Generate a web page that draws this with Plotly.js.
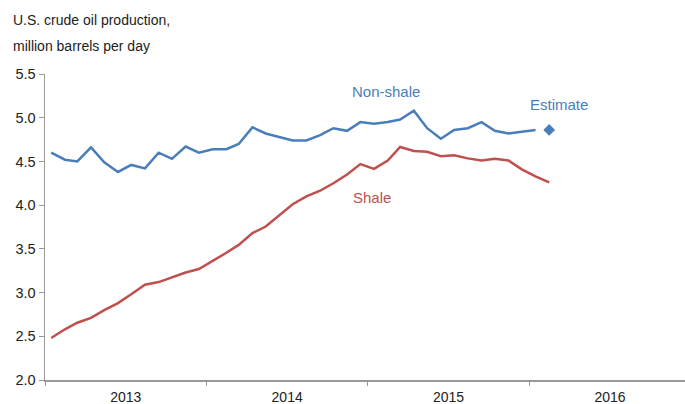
<!DOCTYPE html>
<html>
<head>
<meta charset="utf-8">
<script src="https://cdn.plot.ly/plotly-3.0.1.min.js"></script>
<style>html,body{margin:0;padding:0;background:#fff;}#chart{width:685px;height:404px;}</style>
</head>
<body>
<div id="chart"></div>
<script>
// Monthly data, Jan 2013 onward
var startYear = 2013;
var nonShale = [4.60, 4.52, 4.50, 4.66, 4.49, 4.38, 4.46, 4.42, 4.60, 4.53, 4.67, 4.60,
                4.64, 4.64, 4.70, 4.89, 4.82, 4.78, 4.74, 4.74, 4.80, 4.88, 4.85, 4.95,
                4.93, 4.95, 4.98, 5.08, 4.88, 4.76, 4.86, 4.88, 4.95, 4.85, 4.82, 4.84,
                4.86];
var shale = [2.48, 2.58, 2.655, 2.71, 2.80, 2.88, 2.98, 3.09, 3.12, 3.175, 3.23, 3.27,
             3.36, 3.455, 3.545, 3.68, 3.755, 3.89, 4.01, 4.10, 4.165, 4.25, 4.35, 4.47,
             4.415, 4.51, 4.665, 4.62, 4.61, 4.56, 4.57, 4.535, 4.51, 4.53, 4.51, 4.41,
             4.33, 4.26];
var estimateMonth = ["2016-02-15"];
var estimateValue = [4.86];
var yTicks = [2.0, 2.5, 3.0, 3.5, 4.0, 4.5, 5.0, 5.5];

function monthDates(n) {
  var out = [];
  for (var i = 0; i < n; i++) {
    var y = startYear + Math.floor(i / 12);
    var m = (i % 12) + 1;
    out.push(y + "-" + (m < 10 ? "0" + m : m) + "-15");
  }
  return out;
}

var blue = "#4a7ebb";
var red = "#c0504d";

var traces = [
  {x: monthDates(nonShale.length), y: nonShale, type: "scatter", mode: "lines",
   line: {color: blue, width: 2.5}, hoverinfo: "skip"},
  {x: monthDates(shale.length), y: shale, type: "scatter", mode: "lines",
   line: {color: red, width: 2.5}, hoverinfo: "skip"},
  {x: estimateMonth, y: estimateValue, type: "scatter", mode: "markers",
   marker: {symbol: "diamond", size: 9, color: blue}, hoverinfo: "skip"}
];

var fontFam = "Liberation Sans, Arial, sans-serif";

var layout = {
  width: 685, height: 404,
  margin: {l: 45, r: 0, t: 74, b: 24},
  paper_bgcolor: "#fff", plot_bgcolor: "#fff",
  showlegend: false,
  font: {family: fontFam, size: 14, color: "#222"},
  xaxis: {
    type: "date",
    range: ["2013-01-01", "2016-12-18"],
    tickmode: "linear", tick0: "2013-01-01", dtick: "M12",
    ticklabelmode: "period",
    tickformat: "%Y",
    ticks: "outside", ticklen: 4, tickcolor: "#999", tickwidth: 1,
    showline: true, linecolor: "#999", linewidth: 1.5,
    showgrid: false, zeroline: false,
    tickfont: {family: fontFam, size: 14, color: "#222"}
  },
  yaxis: {
    range: [2.0, 5.5],
    tickvals: yTicks,
    tickformat: ".1f",
    ticks: "outside", ticklen: 5, tickcolor: "#999", tickwidth: 1,
    showline: true, linecolor: "#999", linewidth: 1.5,
    showgrid: false, zeroline: false,
    tickfont: {family: fontFam, size: 14.5, color: "#222"}
  },
  annotations: [
    {text: "U.S. crude oil production,", xref: "paper", yref: "paper", x: -0.053, y: 1.176,
     xanchor: "left", yanchor: "middle", showarrow: false, font: {size: 14, color: "#222"}},
    {text: "million barrels per day", xref: "paper", yref: "paper", x: -0.053, y: 1.091,
     xanchor: "left", yanchor: "middle", showarrow: false, font: {size: 14, color: "#222"}},
    {text: "Non-shale", xref: "paper", yref: "paper", x: 0.533, y: 0.944,
     xanchor: "center", yanchor: "middle", showarrow: false, font: {size: 15, color: blue}},
    {text: "Estimate", xref: "paper", yref: "paper", x: 0.803, y: 0.899,
     xanchor: "center", yanchor: "middle", showarrow: false, font: {size: 15, color: blue}},
    {text: "Shale", xref: "paper", yref: "paper", x: 0.511, y: 0.595,
     xanchor: "center", yanchor: "middle", showarrow: false, font: {size: 15, color: red}}
  ]
};

Plotly.newPlot("chart", traces, layout, {displayModeBar: false, staticPlot: true});
</script>
</body>
</html>
